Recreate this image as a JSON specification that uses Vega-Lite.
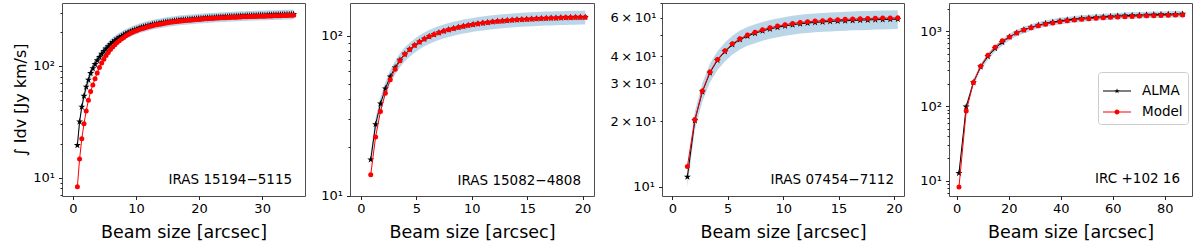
{
  "$schema": "https://vega.github.io/schema/vega-lite/v6.json",
  "padding": {"left": 12, "top": 2, "right": 0, "bottom": 0},
  "spacing": 14,
  "datasets": {
    "p1": [
      {"x":0.7,"a":19.5,"m":8.3,"lo":17.6,"hi":21.5},
      {"x":1.05,"a":31.7,"m":14.7,"lo":28.5,"hi":34.9},
      {"x":1.4,"a":43,"m":22.3,"lo":38.7,"hi":47.3},
      {"x":1.75,"a":53.8,"m":30.4,"lo":48.4,"hi":59.2},
      {"x":2.1,"a":64.9,"m":39.6,"lo":58.4,"hi":71.4},
      {"x":2.45,"a":75,"m":49.3,"lo":67.5,"hi":82.5},
      {"x":2.8,"a":86,"m":58.9,"lo":77.4,"hi":94.6},
      {"x":3.15,"a":95,"m":67.6,"lo":85.5,"hi":104.5},
      {"x":3.5,"a":103.6,"m":76.9,"lo":93.2,"hi":114},
      {"x":3.85,"a":112,"m":86.5,"lo":100.8,"hi":123.2},
      {"x":4.2,"a":120,"m":96.6,"lo":108,"hi":132},
      {"x":4.55,"a":128,"m":106,"lo":115.2,"hi":140.8},
      {"x":4.9,"a":136,"m":115,"lo":122.4,"hi":149.6},
      {"x":5.25,"a":143,"m":124,"lo":128.7,"hi":157.3},
      {"x":5.6,"a":150,"m":132,"lo":135,"hi":165},
      {"x":5.95,"a":157,"m":140,"lo":141.3,"hi":172.7},
      {"x":6.3,"a":163,"m":148,"lo":146.7,"hi":179.3},
      {"x":6.65,"a":169,"m":155,"lo":152.1,"hi":185.9},
      {"x":7,"a":175,"m":162,"lo":157.5,"hi":192.5},
      {"x":7.35,"a":180,"m":168,"lo":162,"hi":198},
      {"x":7.7,"a":185,"m":174,"lo":166.5,"hi":203.5},
      {"x":8.05,"a":190,"m":180,"lo":171,"hi":209},
      {"x":8.4,"a":195,"m":186,"lo":175.5,"hi":214.5},
      {"x":8.75,"a":199,"m":191,"lo":179.1,"hi":218.9},
      {"x":9.1,"a":203,"m":196,"lo":182.7,"hi":223.3},
      {"x":9.45,"a":207,"m":200,"lo":186.3,"hi":227.7},
      {"x":9.8,"a":211,"m":204,"lo":189.9,"hi":232.1},
      {"x":10.15,"a":214,"m":208,"lo":192.6,"hi":235.4},
      {"x":10.5,"a":218,"m":212,"lo":196.2,"hi":239.8},
      {"x":10.85,"a":221,"m":215,"lo":198.9,"hi":243.1},
      {"x":11.2,"a":224,"m":218,"lo":201.6,"hi":246.4},
      {"x":11.55,"a":227,"m":221,"lo":204.3,"hi":249.7},
      {"x":11.9,"a":230,"m":224,"lo":207,"hi":253},
      {"x":12.25,"a":232,"m":227,"lo":208.8,"hi":255.2},
      {"x":12.6,"a":235,"m":229,"lo":211.5,"hi":258.5},
      {"x":12.95,"a":237,"m":232,"lo":213.3,"hi":260.7},
      {"x":13.3,"a":239,"m":234,"lo":215.1,"hi":262.9},
      {"x":13.65,"a":241,"m":236,"lo":216.9,"hi":265.1},
      {"x":14,"a":243,"m":238,"lo":218.7,"hi":267.3},
      {"x":14.35,"a":245,"m":240,"lo":220.5,"hi":269.5},
      {"x":14.7,"a":247,"m":242,"lo":222.3,"hi":271.7},
      {"x":15.05,"a":249,"m":244,"lo":224.1,"hi":273.9},
      {"x":15.4,"a":250.5,"m":245.5,"lo":225.5,"hi":275.6},
      {"x":15.75,"a":252,"m":247,"lo":226.8,"hi":277.2},
      {"x":16.1,"a":253.5,"m":248.5,"lo":228.2,"hi":278.9},
      {"x":16.45,"a":255,"m":250,"lo":229.5,"hi":280.5},
      {"x":16.8,"a":256.5,"m":251.5,"lo":230.9,"hi":282.2},
      {"x":17.15,"a":258,"m":253,"lo":232.2,"hi":283.8},
      {"x":17.5,"a":259,"m":254,"lo":233.1,"hi":284.9},
      {"x":17.85,"a":260,"m":255,"lo":234,"hi":286},
      {"x":18.2,"a":261,"m":256,"lo":234.9,"hi":287.1},
      {"x":18.55,"a":262,"m":257,"lo":235.8,"hi":288.2},
      {"x":18.9,"a":263,"m":258,"lo":236.7,"hi":289.3},
      {"x":19.25,"a":264,"m":259,"lo":237.6,"hi":290.4},
      {"x":19.6,"a":265,"m":260,"lo":238.5,"hi":291.5},
      {"x":19.95,"a":266,"m":261,"lo":239.4,"hi":292.6},
      {"x":20.3,"a":267,"m":262,"lo":240.3,"hi":293.7},
      {"x":20.65,"a":268,"m":263,"lo":241.2,"hi":294.8},
      {"x":21,"a":268.8,"m":264,"lo":241.9,"hi":295.7},
      {"x":21.35,"a":269.6,"m":264.8,"lo":242.6,"hi":296.6},
      {"x":21.7,"a":270.4,"m":265.6,"lo":243.4,"hi":297.4},
      {"x":22.05,"a":271.2,"m":266.4,"lo":244.1,"hi":298.3},
      {"x":22.4,"a":272,"m":267.2,"lo":244.8,"hi":299.2},
      {"x":22.75,"a":272.8,"m":268,"lo":245.5,"hi":300.1},
      {"x":23.1,"a":273.5,"m":268.7,"lo":246.2,"hi":300.9},
      {"x":23.45,"a":274.2,"m":269.4,"lo":246.8,"hi":301.6},
      {"x":23.8,"a":274.9,"m":270,"lo":247.4,"hi":302.4},
      {"x":24.15,"a":275.6,"m":270.6,"lo":248,"hi":303.2},
      {"x":24.5,"a":276.3,"m":271.2,"lo":248.7,"hi":303.9},
      {"x":24.85,"a":277,"m":271.8,"lo":249.3,"hi":304.7},
      {"x":25.2,"a":277.6,"m":272.4,"lo":249.8,"hi":305.4},
      {"x":25.55,"a":278.2,"m":273,"lo":250.4,"hi":306},
      {"x":25.9,"a":278.8,"m":273.5,"lo":250.9,"hi":306.7},
      {"x":26.25,"a":279.4,"m":274,"lo":251.5,"hi":307.3},
      {"x":26.6,"a":280,"m":274.5,"lo":252,"hi":308},
      {"x":26.95,"a":280.6,"m":275,"lo":252.5,"hi":308.7},
      {"x":27.3,"a":281.1,"m":275.5,"lo":253,"hi":309.2},
      {"x":27.65,"a":281.6,"m":276,"lo":253.4,"hi":309.8},
      {"x":28,"a":282.1,"m":276.4,"lo":253.9,"hi":310.3},
      {"x":28.35,"a":282.6,"m":276.8,"lo":254.3,"hi":310.9},
      {"x":28.7,"a":283.1,"m":277.2,"lo":254.8,"hi":311.4},
      {"x":29.05,"a":283.6,"m":277.6,"lo":255.2,"hi":312},
      {"x":29.4,"a":284,"m":278,"lo":255.6,"hi":312.4},
      {"x":29.75,"a":284.4,"m":278.4,"lo":256,"hi":312.8},
      {"x":30.1,"a":284.8,"m":278.8,"lo":256.3,"hi":313.3},
      {"x":30.45,"a":285.2,"m":279.2,"lo":256.7,"hi":313.7},
      {"x":30.8,"a":285.6,"m":279.6,"lo":257,"hi":314.2},
      {"x":31.15,"a":286,"m":280,"lo":257.4,"hi":314.6},
      {"x":31.5,"a":286.4,"m":280.4,"lo":257.8,"hi":315},
      {"x":31.85,"a":286.8,"m":280.8,"lo":258.1,"hi":315.5},
      {"x":32.2,"a":287.2,"m":281.2,"lo":258.5,"hi":315.9},
      {"x":32.55,"a":287.6,"m":281.6,"lo":258.8,"hi":316.4},
      {"x":32.9,"a":288,"m":282,"lo":259.2,"hi":316.8},
      {"x":33.25,"a":288.4,"m":282.4,"lo":259.6,"hi":317.2},
      {"x":33.6,"a":288.8,"m":282.8,"lo":259.9,"hi":317.7},
      {"x":33.95,"a":289.2,"m":283.2,"lo":260.3,"hi":318.1},
      {"x":34.3,"a":289.6,"m":283.6,"lo":260.6,"hi":318.6},
      {"x":34.65,"a":290,"m":284,"lo":261,"hi":319},
      {"x":35,"a":290.4,"m":284.4,"lo":261.4,"hi":319.4}
    ],
    "p2": [
      {"x":0.88,"a":16.8,"m":13.5,"lo":15.1,"hi":18.5},
      {"x":1.32,"a":27.9,"m":23.3,"lo":25.1,"hi":30.7},
      {"x":1.76,"a":37.6,"m":33.6,"lo":33.8,"hi":41.4},
      {"x":2.2,"a":46.7,"m":43.6,"lo":42,"hi":51.4},
      {"x":2.64,"a":55.5,"m":53,"lo":50,"hi":61.1},
      {"x":3.08,"a":63.2,"m":61.6,"lo":56.9,"hi":69.5},
      {"x":3.52,"a":70.5,"m":69.7,"lo":63.5,"hi":77.6},
      {"x":3.96,"a":76.8,"m":76.5,"lo":69.1,"hi":84.5},
      {"x":4.4,"a":82,"m":82,"lo":73.8,"hi":90.2},
      {"x":4.84,"a":87,"m":87,"lo":78.3,"hi":95.7},
      {"x":5.28,"a":91.4,"m":91.4,"lo":82.3,"hi":100.5},
      {"x":5.72,"a":95.3,"m":95.3,"lo":85.8,"hi":104.8},
      {"x":6.16,"a":98.7,"m":98.7,"lo":88.8,"hi":108.6},
      {"x":6.6,"a":101.7,"m":101.7,"lo":91.5,"hi":111.9},
      {"x":7.04,"a":104.4,"m":104.4,"lo":94,"hi":114.8},
      {"x":7.48,"a":106.8,"m":106.8,"lo":96.1,"hi":117.5},
      {"x":7.92,"a":109,"m":109,"lo":98.1,"hi":119.9},
      {"x":8.36,"a":111,"m":111,"lo":99.9,"hi":122.1},
      {"x":8.8,"a":112.8,"m":112.8,"lo":101.5,"hi":124.1},
      {"x":9.24,"a":114.5,"m":114.5,"lo":103.1,"hi":126},
      {"x":9.68,"a":116,"m":116,"lo":104.4,"hi":127.6},
      {"x":10.12,"a":117.4,"m":117.4,"lo":105.7,"hi":129.1},
      {"x":10.56,"a":118.7,"m":118.7,"lo":106.8,"hi":130.6},
      {"x":11,"a":119.9,"m":119.9,"lo":107.9,"hi":131.9},
      {"x":11.44,"a":121,"m":121,"lo":108.9,"hi":133.1},
      {"x":11.88,"a":122,"m":122,"lo":109.8,"hi":134.2},
      {"x":12.32,"a":122.9,"m":122.9,"lo":110.6,"hi":135.2},
      {"x":12.76,"a":123.7,"m":123.7,"lo":111.3,"hi":136.1},
      {"x":13.2,"a":124.4,"m":124.4,"lo":112,"hi":136.8},
      {"x":13.64,"a":125.1,"m":125.1,"lo":112.6,"hi":137.6},
      {"x":14.08,"a":125.7,"m":125.7,"lo":113.1,"hi":138.3},
      {"x":14.52,"a":126.3,"m":126.3,"lo":113.7,"hi":138.9},
      {"x":14.96,"a":126.8,"m":126.8,"lo":114.1,"hi":139.5},
      {"x":15.4,"a":127.3,"m":127.3,"lo":114.6,"hi":140},
      {"x":15.84,"a":127.7,"m":127.7,"lo":114.9,"hi":140.5},
      {"x":16.28,"a":128.1,"m":128.1,"lo":115.3,"hi":140.9},
      {"x":16.72,"a":128.5,"m":128.5,"lo":115.7,"hi":141.4},
      {"x":17.16,"a":128.8,"m":128.8,"lo":115.9,"hi":141.7},
      {"x":17.6,"a":129.1,"m":129.1,"lo":116.2,"hi":142},
      {"x":18.04,"a":129.4,"m":129.4,"lo":116.5,"hi":142.3},
      {"x":18.48,"a":129.7,"m":129.7,"lo":116.7,"hi":142.7},
      {"x":18.92,"a":129.9,"m":129.9,"lo":116.9,"hi":142.9},
      {"x":19.36,"a":130.1,"m":130.1,"lo":117.1,"hi":143.1},
      {"x":19.8,"a":130.3,"m":130.3,"lo":117.3,"hi":143.3},
      {"x":20.24,"a":130.5,"m":130.5,"lo":117.5,"hi":143.6}
    ],
    "p3": [
      {"x":1.36,"a":11.1,"m":12.4,"lo":10,"hi":12.2},
      {"x":2.03,"a":20.2,"m":20.4,"lo":18.2,"hi":22.2},
      {"x":2.71,"a":27.4,"m":27.6,"lo":24.7,"hi":30.1},
      {"x":3.39,"a":33.5,"m":33.8,"lo":30.2,"hi":36.9},
      {"x":4.07,"a":38.3,"m":38.6,"lo":34.5,"hi":42.1},
      {"x":4.75,"a":42,"m":42.3,"lo":37.8,"hi":46.2},
      {"x":5.42,"a":45.2,"m":45.6,"lo":40.7,"hi":49.7},
      {"x":6.1,"a":47.7,"m":48.1,"lo":42.9,"hi":52.5},
      {"x":6.78,"a":49.5,"m":50,"lo":44.6,"hi":54.5},
      {"x":7.46,"a":51,"m":51.6,"lo":45.9,"hi":56.1},
      {"x":8.14,"a":52.3,"m":52.9,"lo":47.1,"hi":57.5},
      {"x":8.81,"a":53.4,"m":54,"lo":48.1,"hi":58.7},
      {"x":9.49,"a":54.3,"m":55,"lo":48.9,"hi":59.7},
      {"x":10.17,"a":55.1,"m":55.8,"lo":49.6,"hi":60.6},
      {"x":10.85,"a":55.8,"m":56.6,"lo":50.2,"hi":61.4},
      {"x":11.53,"a":56.4,"m":57.2,"lo":50.8,"hi":62},
      {"x":12.2,"a":56.8,"m":57.6,"lo":51.1,"hi":62.5},
      {"x":12.88,"a":57.2,"m":58,"lo":51.5,"hi":62.9},
      {"x":13.56,"a":57.5,"m":58.3,"lo":51.8,"hi":63.3},
      {"x":14.24,"a":57.8,"m":58.7,"lo":52,"hi":63.6},
      {"x":14.92,"a":58,"m":58.9,"lo":52.2,"hi":63.8},
      {"x":15.59,"a":58.2,"m":59.1,"lo":52.4,"hi":64},
      {"x":16.27,"a":58.4,"m":59.3,"lo":52.6,"hi":64.2},
      {"x":16.95,"a":58.6,"m":59.5,"lo":52.7,"hi":64.5},
      {"x":17.63,"a":58.7,"m":59.6,"lo":52.8,"hi":64.6},
      {"x":18.31,"a":58.9,"m":59.8,"lo":53,"hi":64.8},
      {"x":18.98,"a":59,"m":59.9,"lo":53.1,"hi":64.9},
      {"x":19.66,"a":59.1,"m":60,"lo":53.2,"hi":65},
      {"x":20.34,"a":59.2,"m":60.1,"lo":53.3,"hi":65.1}
    ],
    "p4": [
      {"x":0.88,"a":12.7,"m":8.3,"lo":11.4,"hi":14},
      {"x":3.66,"a":98,"m":86,"lo":88.2,"hi":107.8},
      {"x":6.43,"a":207,"m":207,"lo":186.3,"hi":227.7},
      {"x":9.21,"a":335,"m":341,"lo":301.5,"hi":368.5},
      {"x":11.98,"a":460,"m":479,"lo":414,"hi":506},
      {"x":14.76,"a":590,"m":612,"lo":531,"hi":649},
      {"x":17.53,"a":712,"m":743,"lo":640.8,"hi":783.2},
      {"x":20.31,"a":840,"m":839,"lo":756,"hi":924},
      {"x":23.08,"a":950,"m":949,"lo":855,"hi":1045},
      {"x":25.86,"a":1045,"m":1040,"lo":940.5,"hi":1149.5},
      {"x":28.63,"a":1128,"m":1110,"lo":1015.2,"hi":1240.8},
      {"x":31.41,"a":1205,"m":1180,"lo":1084.5,"hi":1325.5},
      {"x":34.18,"a":1270,"m":1240,"lo":1143,"hi":1397},
      {"x":36.96,"a":1322,"m":1290,"lo":1189.8,"hi":1454.2},
      {"x":39.73,"a":1370,"m":1335,"lo":1233,"hi":1507},
      {"x":42.51,"a":1412,"m":1375,"lo":1270.8,"hi":1553.2},
      {"x":45.28,"a":1448,"m":1410,"lo":1303.2,"hi":1592.8},
      {"x":48.06,"a":1480,"m":1440,"lo":1332,"hi":1628},
      {"x":50.83,"a":1507,"m":1465,"lo":1356.3,"hi":1657.7},
      {"x":53.61,"a":1533,"m":1490,"lo":1379.7,"hi":1686.3},
      {"x":56.38,"a":1555,"m":1510,"lo":1399.5,"hi":1710.5},
      {"x":59.16,"a":1576,"m":1530,"lo":1418.4,"hi":1733.6},
      {"x":61.93,"a":1595,"m":1548,"lo":1435.5,"hi":1754.5},
      {"x":64.71,"a":1611,"m":1563,"lo":1449.9,"hi":1772.1},
      {"x":67.48,"a":1625,"m":1577,"lo":1462.5,"hi":1787.5},
      {"x":70.26,"a":1638,"m":1590,"lo":1474.2,"hi":1801.8},
      {"x":73.03,"a":1650,"m":1602,"lo":1485,"hi":1815},
      {"x":75.81,"a":1661,"m":1613,"lo":1494.9,"hi":1827.1},
      {"x":78.58,"a":1672,"m":1623,"lo":1504.8,"hi":1839.2},
      {"x":81.36,"a":1681,"m":1632,"lo":1512.9,"hi":1849.1},
      {"x":84.13,"a":1689,"m":1640,"lo":1520.1,"hi":1857.9},
      {"x":86.91,"a":1697,"m":1648,"lo":1527.3,"hi":1866.7}
    ]
  },
  "hconcat": [
    {
      "width": 243, "height": 193,
      "data": {"name": "p1"},
      "layer": [
        {"mark": {"type": "area", "color": "#1f77b4", "opacity": 0.3},
         "encoding": {
           "x": {"field": "x", "type": "quantitative", "scale": {"domain": [-1.74, 36.8], "nice": false, "zero": false}, "axis": {"values": [0, 10, 20, 30]}, "title": "Beam size [arcsec]"},
           "y": {"field": "lo", "type": "quantitative", "scale": {"type": "log", "domain": [6.85, 366], "nice": false}, "axis": {"values": [7,8,9,10,20,30,40,50,60,70,80,90,100,200,300], "labelExpr": "datum.value == 10 ? '10¹' : datum.value == 100 ? '10²' : ''", "tickSize": {"condition": {"test": "datum.value == 10 || datum.value == 100", "value": 3.5}, "value": 2}}, "title": "∫ Idv [Jy km/s]"},
           "y2": {"field": "hi"}}},
        {"mark": {"type": "line", "color": "#000000", "strokeWidth": 1},
         "encoding": {"x": {"field": "x", "type": "quantitative", "title": "Beam size [arcsec]"}, "y": {"field": "a", "type": "quantitative", "title": "∫ Idv [Jy km/s]"}}},
        {"mark": {"type": "point", "shape": "M0,-1L0.225,-0.309L0.951,-0.309L0.363,0.118L0.588,0.809L0,0.382L-0.588,0.809L-0.363,0.118L-0.951,-0.309L-0.225,-0.309Z", "filled": true, "color": "#000000", "size": 55, "opacity": 1},
         "encoding": {"x": {"field": "x", "type": "quantitative", "title": "Beam size [arcsec]"}, "y": {"field": "a", "type": "quantitative", "title": "∫ Idv [Jy km/s]"}}},
        {"mark": {"type": "line", "color": "#ff0000", "strokeWidth": 1},
         "encoding": {"x": {"field": "x", "type": "quantitative", "title": "Beam size [arcsec]"}, "y": {"field": "m", "type": "quantitative", "title": "∫ Idv [Jy km/s]"}}},
        {"mark": {"type": "point", "shape": "circle", "filled": true, "color": "#ff0000", "size": 25, "opacity": 1},
         "encoding": {"x": {"field": "x", "type": "quantitative", "title": "Beam size [arcsec]"}, "y": {"field": "m", "type": "quantitative", "title": "∫ Idv [Jy km/s]"}}},
        {"data": {"values": [{"name": "IRAS 15194−5115"}]},
         "mark": {"type": "text", "align": "right", "baseline": "alphabetic", "fontSize": 13.5, "font": "DejaVu Sans", "color": "#000000"},
         "encoding": {"x": {"datum": 34.75, "type": "quantitative", "title": "Beam size [arcsec]"}, "y": {"datum": 8.78, "type": "quantitative", "title": "∫ Idv [Jy km/s]"}, "text": {"field": "name"}}}
      ]
    },
    {
      "width": 244, "height": 193,
      "data": {"name": "p2"},
      "layer": [
        {"mark": {"type": "area", "color": "#1f77b4", "opacity": 0.3},
         "encoding": {
           "x": {"field": "x", "type": "quantitative", "scale": {"domain": [-0.99, 21.03], "nice": false, "zero": false}, "axis": {"values": [0, 5, 10, 15, 20]}, "title": "Beam size [arcsec]"},
           "y": {"field": "lo", "type": "quantitative", "scale": {"type": "log", "domain": [9.95, 160], "nice": false}, "axis": {"values": [10,20,30,40,50,60,70,80,90,100], "labelExpr": "datum.value == 10 ? '10¹' : datum.value == 100 ? '10²' : ''", "tickSize": {"condition": {"test": "datum.value == 10 || datum.value == 100", "value": 3.5}, "value": 2}}, "title": ""},
           "y2": {"field": "hi"}}},
        {"mark": {"type": "line", "color": "#000000", "strokeWidth": 1},
         "encoding": {"x": {"field": "x", "type": "quantitative", "title": "Beam size [arcsec]"}, "y": {"field": "a", "type": "quantitative", "title": ""}}},
        {"mark": {"type": "point", "shape": "M0,-1L0.225,-0.309L0.951,-0.309L0.363,0.118L0.588,0.809L0,0.382L-0.588,0.809L-0.363,0.118L-0.951,-0.309L-0.225,-0.309Z", "filled": true, "color": "#000000", "size": 55, "opacity": 1},
         "encoding": {"x": {"field": "x", "type": "quantitative", "title": "Beam size [arcsec]"}, "y": {"field": "a", "type": "quantitative", "title": ""}}},
        {"mark": {"type": "line", "color": "#ff0000", "strokeWidth": 1},
         "encoding": {"x": {"field": "x", "type": "quantitative", "title": "Beam size [arcsec]"}, "y": {"field": "m", "type": "quantitative", "title": ""}}},
        {"mark": {"type": "point", "shape": "circle", "filled": true, "color": "#ff0000", "size": 25, "opacity": 1},
         "encoding": {"x": {"field": "x", "type": "quantitative", "title": "Beam size [arcsec]"}, "y": {"field": "m", "type": "quantitative", "title": ""}}},
        {"data": {"values": [{"name": "IRAS 15082−4808"}]},
         "mark": {"type": "text", "align": "right", "baseline": "alphabetic", "fontSize": 13.5, "font": "DejaVu Sans", "color": "#000000"},
         "encoding": {"x": {"datum": 19.86, "type": "quantitative", "title": "Beam size [arcsec]"}, "y": {"datum": 11.7, "type": "quantitative", "title": ""}, "text": {"field": "name"}}}
      ]
    },
    {
      "width": 242, "height": 193,
      "data": {"name": "p3"},
      "layer": [
        {"mark": {"type": "area", "color": "#1f77b4", "opacity": 0.3},
         "encoding": {
           "x": {"field": "x", "type": "quantitative", "scale": {"domain": [-0.93, 20.9], "nice": false, "zero": false}, "axis": {"values": [0, 5, 10, 15, 20]}, "title": "Beam size [arcsec]"},
           "y": {"field": "lo", "type": "quantitative", "scale": {"type": "log", "domain": [9.06, 70.3], "nice": false}, "axis": {"values": [10,20,30,40,50,60,70], "labelExpr": "datum.value == 10 ? '10¹' : datum.value == 20 ? '2\u2009×\u200910¹' : datum.value == 30 ? '3\u2009×\u200910¹' : datum.value == 40 ? '4\u2009×\u200910¹' : datum.value == 60 ? '6\u2009×\u200910¹' : ''", "tickSize": {"condition": {"test": "datum.value == 10", "value": 3.5}, "value": 2}}, "title": ""},
           "y2": {"field": "hi"}}},
        {"mark": {"type": "line", "color": "#000000", "strokeWidth": 1},
         "encoding": {"x": {"field": "x", "type": "quantitative", "title": "Beam size [arcsec]"}, "y": {"field": "a", "type": "quantitative", "title": ""}}},
        {"mark": {"type": "point", "shape": "M0,-1L0.225,-0.309L0.951,-0.309L0.363,0.118L0.588,0.809L0,0.382L-0.588,0.809L-0.363,0.118L-0.951,-0.309L-0.225,-0.309Z", "filled": true, "color": "#000000", "size": 55, "opacity": 1},
         "encoding": {"x": {"field": "x", "type": "quantitative", "title": "Beam size [arcsec]"}, "y": {"field": "a", "type": "quantitative", "title": ""}}},
        {"mark": {"type": "line", "color": "#ff0000", "strokeWidth": 1},
         "encoding": {"x": {"field": "x", "type": "quantitative", "title": "Beam size [arcsec]"}, "y": {"field": "m", "type": "quantitative", "title": ""}}},
        {"mark": {"type": "point", "shape": "circle", "filled": true, "color": "#ff0000", "size": 25, "opacity": 1},
         "encoding": {"x": {"field": "x", "type": "quantitative", "title": "Beam size [arcsec]"}, "y": {"field": "m", "type": "quantitative", "title": ""}}},
        {"data": {"values": [{"name": "IRAS 07454−7112"}]},
         "mark": {"type": "text", "align": "right", "baseline": "alphabetic", "fontSize": 13.5, "font": "DejaVu Sans", "color": "#000000"},
         "encoding": {"x": {"datum": 20.0, "type": "quantitative", "title": "Beam size [arcsec]"}, "y": {"datum": 10.3, "type": "quantitative", "title": ""}, "text": {"field": "name"}}}
      ]
    },
    {
      "width": 243, "height": 193,
      "data": {"name": "p4"},
      "layer": [
        {"mark": {"type": "area", "color": "#1f77b4", "opacity": 0.3},
         "encoding": {
           "x": {"field": "x", "type": "quantitative", "scale": {"domain": [-2.96, 90.5], "nice": false, "zero": false}, "axis": {"values": [0, 20, 40, 60, 80]}, "title": "Beam size [arcsec]"},
           "y": {"field": "lo", "type": "quantitative", "scale": {"type": "log", "domain": [6.3, 2380], "nice": false}, "axis": {"values": [7,8,9,10,20,30,40,50,60,70,80,90,100,200,300,400,500,600,700,800,900,1000,2000], "labelExpr": "datum.value == 10 ? '10¹' : datum.value == 100 ? '10²' : datum.value == 1000 ? '10³' : ''", "tickSize": {"condition": {"test": "datum.value == 10 || datum.value == 100 || datum.value == 1000", "value": 3.5}, "value": 2}}, "title": ""},
           "y2": {"field": "hi"}}},
        {"mark": {"type": "line", "color": "#000000", "strokeWidth": 1},
         "encoding": {"x": {"field": "x", "type": "quantitative", "title": "Beam size [arcsec]"}, "y": {"field": "a", "type": "quantitative", "title": ""}}},
        {"mark": {"type": "point", "shape": "M0,-1L0.225,-0.309L0.951,-0.309L0.363,0.118L0.588,0.809L0,0.382L-0.588,0.809L-0.363,0.118L-0.951,-0.309L-0.225,-0.309Z", "filled": true, "color": "#000000", "size": 55, "opacity": 1},
         "encoding": {"x": {"field": "x", "type": "quantitative", "title": "Beam size [arcsec]"}, "y": {"field": "a", "type": "quantitative", "title": ""}}},
        {"mark": {"type": "line", "color": "#ff0000", "strokeWidth": 1},
         "encoding": {"x": {"field": "x", "type": "quantitative", "title": "Beam size [arcsec]"}, "y": {"field": "m", "type": "quantitative", "title": ""}}},
        {"mark": {"type": "point", "shape": "circle", "filled": true, "color": "#ff0000", "size": 25, "opacity": 1},
         "encoding": {"x": {"field": "x", "type": "quantitative", "title": "Beam size [arcsec]"}, "y": {"field": "m", "type": "quantitative", "title": ""}}},
        {"data": {"values": [{"name": "IRC +102 16"}]},
         "mark": {"type": "text", "align": "right", "baseline": "alphabetic", "fontSize": 13.5, "font": "DejaVu Sans", "color": "#000000"},
         "encoding": {"x": {"datum": 85.9, "type": "quantitative", "title": "Beam size [arcsec]"}, "y": {"datum": 9.48, "type": "quantitative", "title": ""}, "text": {"field": "name"}}},
        {"data": {"values": [{"series": "ALMA"}, {"series": "Model"}]},
         "transform": [{"filter": "datum.series == 'legend-only'"}],
         "mark": {"type": "point", "filled": true, "opacity": 1, "size": 784},
         "encoding": {
           "color": {"field": "series", "type": "nominal", "scale": {"domain": ["ALMA", "Model"], "range": ["#000000", "#ff0000"]},
             "legend": {"title": null, "orient": "none", "legendX": 149, "legendY": 69, "labelFontSize": 13.5, "labelFont": "DejaVu Sans", "labelColor": "#000000", "symbolSize": 784, "padding": 5, "strokeColor": "#cccccc", "fillColor": "rgba(255,255,255,0.8)", "cornerRadius": 3, "rowPadding": -9, "labelOffset": 11, "symbolStrokeWidth": 0}},
           "shape": {"field": "series", "type": "nominal", "scale": {"domain": ["ALMA", "Model"], "range": ["M-1,-0.036H1V0.036H-1ZM0,-0.2L0.045,-0.062L0.19,-0.062L0.073,0.024L0.118,0.162L0,0.076L-0.118,0.162L-0.073,0.024L-0.19,-0.062L-0.045,-0.062Z", "M-1,-0.036H1V0.036H-1ZM-0.18,0A0.18,0.18 0 1,1 0.18,0A0.18,0.18 0 1,1 -0.18,0Z"]}}
         }}
      ]
    }
  ],
  "resolve": {"scale": {"color": "independent", "shape": "independent"}},
  "config": {
    "font": "DejaVu Sans",
    "view": {"stroke": "#4d4d4d", "strokeWidth": 1},
    "axis": {"domain": false, "grid": false, "labelFont": "DejaVu Sans", "labelFontSize": 13, "labelColor": "#000000", "tickColor": "#222222", "tickWidth": 1, "tickSize": 3.5, "titleFont": "DejaVu Sans", "titleFontWeight": "normal", "titleColor": "#000000", "labelPadding": 4},
    "axisX": {"titleFontSize": 17.5, "titlePadding": 8, "labelPadding": 3},
    "axisY": {"titleFontSize": 16, "titlePadding": 4}
  }
}
